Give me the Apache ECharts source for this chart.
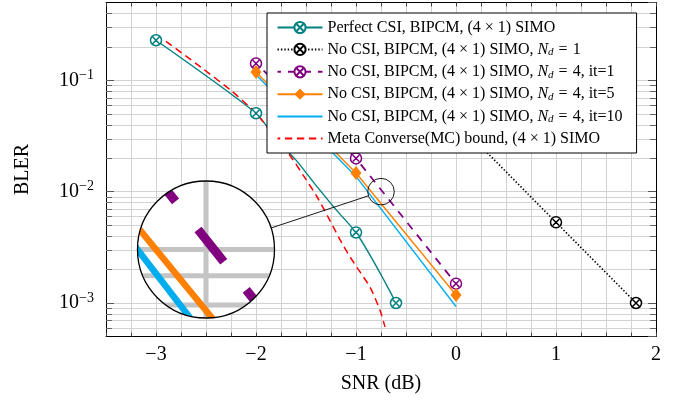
<!DOCTYPE html>
<html><head><meta charset="utf-8">
<script src="https://cdn.jsdelivr.net/npm/echarts@6/dist/echarts.min.js"></script>
<style>html,body{margin:0;padding:0;background:#fff}#c{width:683px;height:405px}</style>
</head><body><div id="c"></div>
<script>
// ---------------- data ----------------
const perfectX = [-3, -2, -1.8, -1.6, -1.4, -1.2, -1, -0.85, -0.72, -0.6];
const perfectY = [0.229, 0.0506, 0.0298, 0.0192, 0.0114, 0.0069, 0.0043, 0.0026, 0.0016, 0.001];
const perfectMarks = [-3, -2, -1, -0.6];
const nd1X = [0, 1, 1.8];
const nd1Y = [0.043, 0.0053, 0.001];
const it1X = [-2, -1, 0];
const it1Y = [0.1416, 0.0199, 0.00149];
const it5X = [-2, -1, 0];
const it5Y = [0.119, 0.0147, 0.00118];
const it10X = [-2, -1, 0];
const it10Y = [0.112, 0.0137, 0.00093];
const mcX = [-2.9, -2.55, -2.25, -2.0, -1.8, -1.65, -1.52, -1.39, -1.26, -1.16, -1.06, -0.96, -0.86, -0.76, -0.71];
const mcY = [0.224, 0.131, 0.081, 0.0506, 0.030, 0.0205, 0.0137, 0.0090, 0.0055, 0.0037, 0.0026, 0.0019, 0.00139, 0.00086, 0.00061];

const seriesNames = ['perfect', 'nd1', 'it1', 'it5', 'it10', 'mc'];
const legendTexts = {
  perfect: 'Perfect CSI, BIPCM, (4 × 1) SIMO',
  nd1: 'No CSI, BIPCM, (4 × 1) SIMO, {i|N}{s|d}{e|=}1',
  it1: 'No CSI, BIPCM, (4 × 1) SIMO, {i|N}{s|d}{e|=}4, it=1',
  it5: 'No CSI, BIPCM, (4 × 1) SIMO, {i|N}{s|d}{e|=}4, it=5',
  it10: 'No CSI, BIPCM, (4 × 1) SIMO, {i|N}{s|d}{e|=}4, it=10',
  mc: 'Meta Converse(MC) bound, (4 × 1) SIMO'
};
const xMin = -3.5, xMax = 2, xStep = 0.25;
const yMin = 5e-4, yMax = 0.5;
const yMinor = [6e-4, 7e-4, 8e-4, 9e-4, 2e-3, 3e-3, 4e-3, 5e-3, 6e-3, 7e-3, 8e-3, 9e-3,
  2e-2, 3e-2, 4e-2, 5e-2, 6e-2, 7e-2, 8e-2, 9e-2, 0.2, 0.3, 0.4];
const yMajor = [1e-3, 1e-2, 1e-1];
const spyX = -0.75, spyY = 0.01;

// ---------------- layout ----------------
const G = {left: 106, top: 2.5, width: 550, height: 334};
const insetC = [206, 249.5], insetR = 68.5, mag = 5.15;
const pxPerX = G.width / (xMax - xMin);
const pxPerDec = G.height / Math.log10(yMax / yMin);
const halfX = insetR / (pxPerX * mag);
const halfDec = insetR / (pxPerDec * mag);
const purpleDash = [8, 7];
let dashPhase = 0; // main-plot pixels, set after first layout

const FONT = 'Liberation Serif, Times New Roman, DejaVu Serif, serif';
const FS = 16;
const C = {teal: '#008080', black: '#000000', purple: '#800080', orange: '#ff8000', blue: '#00aeef', red: '#ff0000'};
const otimes = 'path://M50,0 A50,50 0 1,1 50,100 A50,50 0 1,1 50,0 Z M21,21 L79,79 M79,21 L21,79';

const xGrid = [];
for (let v = xMin; v <= xMax + 1e-9; v += xStep) xGrid.push(+v.toFixed(4));

function pairs(xs, ys) { return xs.map((x, i) => [x, ys[i]]); }
function markedPairs(xs, ys, marks) {
  return xs.map((x, i) => marks.includes(x) ? {value: [x, ys[i]]} : {value: [x, ys[i]], symbol: 'none'});
}
const otStyle = (col) => ({color: '#fff', borderColor: col, borderWidth: 1.5});
const noSym = {opacity: 0};

function buildOption() {
  return {
  animation: false,
  textStyle: {fontFamily: FONT},
  grid: [
    {left: G.left, top: G.top, width: G.width, height: G.height, containLabel: false},
    {left: insetC[0] - insetR, top: insetC[1] - insetR, width: 2 * insetR, height: 2 * insetR}
  ],
  xAxis: [
    {type: 'value', gridIndex: 0, min: xMin, max: xMax, interval: xStep, position: 'bottom',
      axisLine: {onZero: false, lineStyle: {color: '#000', width: 1}},
      axisTick: {inside: true, length: 4, lineStyle: {color: '#444'}},
      axisLabel: {color: '#000', fontSize: 20, fontFamily: FONT, margin: 8,
        formatter: v => Math.abs(v - Math.round(v)) < 1e-9 ? (v < 0 ? '−' + (-v) : '' + v) : ''},
      splitLine: {show: true, lineStyle: {color: '#d2d2d2', width: 1}},
      name: 'SNR (dB)', nameLocation: 'middle', nameGap: 37,
      nameTextStyle: {fontSize: 20, color: '#000', fontFamily: FONT}},
    {type: 'value', gridIndex: 0, min: xMin, max: xMax, interval: xStep, position: 'top',
      axisLine: {onZero: false, lineStyle: {color: '#000', width: 1}},
      axisTick: {inside: true, length: 4, lineStyle: {color: '#444'}},
      axisLabel: {show: false}, splitLine: {show: false}},
    {type: 'value', gridIndex: 1, min: spyX - halfX, max: spyX + halfX, show: false}
  ],
  yAxis: [
    {type: 'log', logBase: 10, gridIndex: 0, min: yMin, max: yMax, position: 'left',
      axisLine: {onZero: false, lineStyle: {color: '#000', width: 1}},
      axisTick: {inside: true, length: 8, lineStyle: {color: '#555'}},
      axisLabel: {color: '#000', margin: 12, fontFamily: FONT, showMinLabel: false, showMaxLabel: false,
        formatter: v => {
          const l = Math.log10(v), e = Math.round(l);
          if (Math.abs(l - e) > 1e-6) return '';
          return '{b|10}{s|−' + (-e) + '}';
        },
        rich: {b: {fontSize: 20, fontFamily: FONT, color: '#000'},
               s: {fontSize: 14, fontFamily: FONT, color: '#000', lineHeight: 12, padding: [0, 0, 10, 0]}}},
      splitLine: {show: true, lineStyle: {color: '#d2d2d2', width: 1}},
      name: 'BLER', nameLocation: 'middle', nameGap: 73, nameRotate: 90,
      nameTextStyle: {fontSize: 20, color: '#000', fontFamily: FONT}},
    {type: 'log', logBase: 10, gridIndex: 0, min: yMin, max: yMax, position: 'right',
      axisLine: {onZero: false, lineStyle: {color: '#000', width: 1}},
      axisTick: {inside: true, length: 8, lineStyle: {color: '#555'}},
      axisLabel: {show: false}, splitLine: {show: false}},
    {type: 'log', logBase: 10, gridIndex: 1,
      min: Math.pow(10, Math.log10(spyY) - halfDec), max: Math.pow(10, Math.log10(spyY) + halfDec), show: false}
  ],
  legend: {
    data: seriesNames, orient: 'vertical', left: 267, top: 13, z: 50,
    itemWidth: 45, itemHeight: 14, itemGap: 5.4,
    padding: [6.5, 14, 6.5, 9.5],
    backgroundColor: '#fff', borderColor: '#000', borderWidth: 1, borderRadius: 0,
    textStyle: {fontFamily: FONT, fontSize: FS, color: '#000', lineHeight: 16,
      rich: {
        i: {fontFamily: FONT, fontSize: FS, fontStyle: 'italic', color: '#000', lineHeight: 16},
        s: {fontFamily: FONT, fontSize: 11, fontStyle: 'italic', color: '#000', lineHeight: 10, padding: [6, 0, 0, 0]},
        e: {fontFamily: FONT, fontSize: FS, color: '#000', lineHeight: 16, padding: [0, 5, 0, 5]}
      }},
    formatter: n => legendTexts[n],
    selectedMode: false
  },
  series: [
    {name: 'perfect', type: 'line', xAxisIndex: 0, yAxisIndex: 0, data: markedPairs(perfectX, perfectY, perfectMarks),
      smooth: 0.25, color: C.teal, symbol: otimes, symbolSize: 11, itemStyle: otStyle(C.teal),
      lineStyle: {color: C.teal, width: 1.4}},
    {name: 'nd1', type: 'line', xAxisIndex: 0, yAxisIndex: 0, data: pairs(nd1X, nd1Y),
      color: C.black, symbol: otimes, symbolSize: 11, itemStyle: otStyle(C.black),
      lineStyle: {color: C.black, width: 1.6, type: [1.4, 2]}},
    {name: 'it1', type: 'line', xAxisIndex: 0, yAxisIndex: 0, data: pairs(it1X, it1Y),
      color: C.purple, symbol: otimes, symbolSize: 11, itemStyle: otStyle(C.purple),
      lineStyle: {color: C.purple, width: 1.8, type: purpleDash, dashOffset: dashPhase}},
    {name: 'it5', type: 'line', xAxisIndex: 0, yAxisIndex: 0, data: pairs(it5X, it5Y),
      color: C.orange, symbol: 'diamond', symbolSize: [11, 14], itemStyle: {color: C.orange},
      lineStyle: {color: C.orange, width: 1.4}},
    {name: 'it10', type: 'line', xAxisIndex: 0, yAxisIndex: 0, data: pairs(it10X, it10Y),
      color: C.blue, symbol: 'circle', showSymbol: false, itemStyle: noSym,
      lineStyle: {color: C.blue, width: 1.4}},
    {name: 'mc', type: 'line', xAxisIndex: 0, yAxisIndex: 0, data: pairs(mcX, mcY),
      smooth: 0.25, color: C.red, symbol: 'circle', showSymbol: false, itemStyle: noSym,
      lineStyle: {color: C.red, width: 1.5, type: [7.3, 4.7]}},
    // minor horizontal grid lines + minor ticks on both y sides
    {type: 'custom', xAxisIndex: 0, yAxisIndex: 0, silent: true, z: 1,
      data: yMinor.map(v => [xMin, v]),
      renderItem: (params, api) => {
        const v = api.value(1);
        const p0 = api.coord([xMin, v]), p1 = api.coord([xMax, v]);
        const y = Math.round(p0[1]) + 0.5;
        return {type: 'group', children: [
          {type: 'line', shape: {x1: p0[0], y1: y, x2: p1[0], y2: y}, style: {stroke: '#d2d2d2', lineWidth: 1}},
          {type: 'line', shape: {x1: p0[0], y1: y, x2: p0[0] + 6, y2: y}, style: {stroke: '#666', lineWidth: 1}},
          {type: 'line', shape: {x1: p1[0] - 6, y1: y, x2: p1[0], y2: y}, style: {stroke: '#666', lineWidth: 1}}
        ]};
      }},
    // magnified inset (spy)
    {type: 'custom', xAxisIndex: 2, yAxisIndex: 2, silent: true, z: 20,
      data: [[spyX, spyY]],
      renderItem: (params, api) => {
        const c = api.coord([spyX, spyY]);
        const lo = Math.pow(10, Math.log10(spyY) - halfDec), hi = Math.pow(10, Math.log10(spyY) + halfDec);
        const kids = [{type: 'circle', shape: {cx: c[0], cy: c[1], r: insetR}, style: {fill: '#fff'}}];
        xGrid.filter(x => x > spyX - halfX && x < spyX + halfX).forEach(x => {
          const a = api.coord([x, lo]), b = api.coord([x, hi]);
          kids.push({type: 'line', shape: {x1: a[0], y1: a[1], x2: b[0], y2: b[1]}, style: {stroke: '#c4c4c4', lineWidth: 5}});
        });
        yMinor.concat(yMajor).filter(v => v > lo && v < hi).forEach(v => {
          const a = api.coord([spyX - halfX, v]), b = api.coord([spyX + halfX, v]);
          kids.push({type: 'line', shape: {x1: a[0], y1: a[1], x2: b[0], y2: b[1]}, style: {stroke: '#c4c4c4', lineWidth: 5}});
        });
        const poly = (xs, ys, col, w, dash, off) => ({type: 'polyline',
          shape: {points: xs.map((x, i) => api.coord([x, ys[i]]))},
          style: {stroke: col, lineWidth: w, fill: 'none', lineDash: dash || null, lineDashOffset: off || 0}});
        kids.push(poly(it1X, it1Y, C.purple, 9, purpleDash.map(v => v * mag), dashPhase * mag));
        kids.push(poly(it5X, it5Y, C.orange, 6.5));
        kids.push(poly(it10X, it10Y, C.blue, 6.5));
        return {type: 'group', children: [
          {type: 'group', clipPath: {type: 'circle', shape: {cx: c[0], cy: c[1], r: insetR}}, children: kids},
          {type: 'circle', shape: {cx: c[0], cy: c[1], r: insetR}, style: {fill: 'none', stroke: '#000', lineWidth: 1.3}}
        ]};
      }}
  ]
  };
}

const chart = echarts.init(document.getElementById('c'));
chart.setOption(buildOption());

// dash phase: put a purple dash centred where the line crosses the spy point
(function () {
  const pts = it1X.map((x, i) => chart.convertToPixel({seriesIndex: 2}, [x, it1Y[i]]));
  const c = chart.convertToPixel({seriesIndex: 2}, [spyX, spyY]);
  let s = 0, best = null;
  for (let i = 0; i < pts.length - 1; i++) {
    const a = pts[i], b = pts[i + 1];
    const L = Math.hypot(b[0] - a[0], b[1] - a[1]);
    let t = ((c[0] - a[0]) * (b[0] - a[0]) + (c[1] - a[1]) * (b[1] - a[1])) / (L * L);
    t = Math.max(0, Math.min(1, t));
    const px = a[0] + t * (b[0] - a[0]), py = a[1] + t * (b[1] - a[1]);
    const dd = Math.hypot(px - c[0], py - c[1]);
    if (!best || dd < best.dd) best = {dd, s: s + t * L};
    s += L;
  }
  const period = purpleDash[0] + purpleDash[1];
  const start = best.s - purpleDash[0] / 2;
  dashPhase = (((-start) % period) + period) % period;
})();
chart.setOption(buildOption(), true);

// spy circle and connector, positioned through the library's coordinate conversion
const sc = chart.convertToPixel({seriesIndex: 0}, [spyX, spyY]);
const bc = chart.convertToPixel({seriesIndex: 7}, [spyX, spyY]);
const rs = insetR / mag;
const dx = sc[0] - bc[0], dy = sc[1] - bc[1], d = Math.hypot(dx, dy), ux = dx / d, uy = dy / d;
chart.setOption({graphic: [
  {type: 'circle', silent: true, z: 100, shape: {cx: sc[0], cy: sc[1], r: rs}, style: {fill: 'none', stroke: '#000', lineWidth: 0.9}},
  {type: 'line', silent: true, z: 100, shape: {x1: bc[0] + ux * insetR, y1: bc[1] + uy * insetR, x2: sc[0] - ux * rs, y2: sc[1] - uy * rs},
    style: {stroke: '#000', lineWidth: 0.9}}
]});
</script>
</body></html>
